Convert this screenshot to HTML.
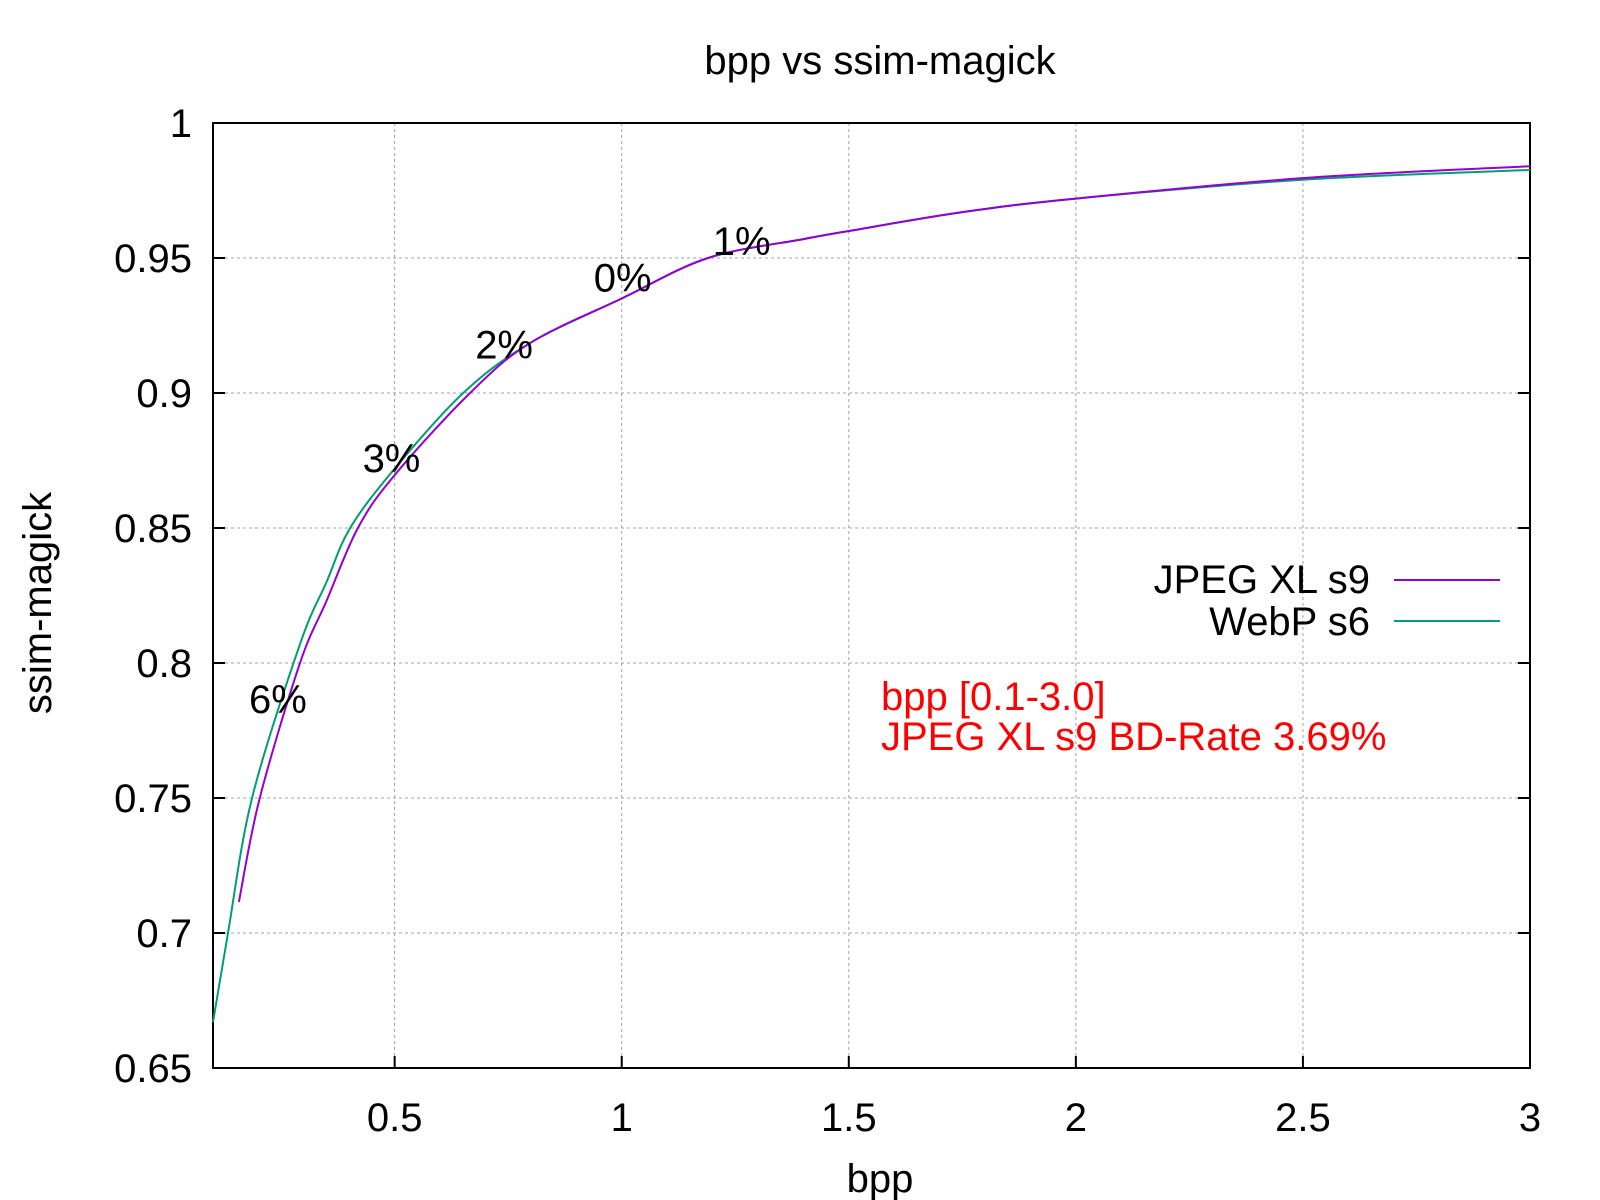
<!DOCTYPE html>
<html><head><meta charset="utf-8"><style>
html,body{margin:0;padding:0;background:#fff;}
svg{display:block;font-family:"Liberation Sans",Arial,sans-serif;}
</style></head><body>
<svg id="chart" width="1600" height="1200" viewBox="0 0 1600 1200">
<text x="880" y="74" font-size="40" text-anchor="middle">bpp vs ssim-magick</text>
<g id="grid"></g>
<g id="ticks"></g>
<rect x="213" y="123" width="1317" height="945" fill="none" stroke="#000" stroke-width="2"/>
<g id="series"></g>
<text x="880" y="1192" font-size="40" text-anchor="middle">bpp</text>
<text x="0" y="0" font-size="40" text-anchor="middle" transform="translate(51,603) rotate(-90)">ssim-magick</text>
<g>
<text x="1370" y="593" font-size="40" text-anchor="end">JPEG XL s9</text>
<line x1="1394" y1="580" x2="1500" y2="580" stroke="#9400d3" stroke-width="2"/>
<text x="1370" y="635" font-size="40" text-anchor="end">WebP s6</text>
<line x1="1394" y1="621" x2="1500" y2="621" stroke="#009e73" stroke-width="2"/>
</g>
<text x="881" y="710" font-size="40" fill="#ff0000">bpp [0.1-3.0]</text>
<text x="881" y="750" font-size="40" fill="#ff0000">JPEG XL s9 BD-Rate 3.69%</text>
<g id="annots"></g>
</svg>
<script>
const xTicks=[0.5,1,1.5,2,2.5,3];
const xTickLabels=["0.5","1","1.5","2","2.5","3"];
const yTicks=[0.65,0.7,0.75,0.8,0.85,0.9,0.95,1];
const yTickLabels=["0.65","0.7","0.75","0.8","0.85","0.9","0.95","1"];
const jxlX=[0.157,0.203,0.2916,0.35,0.419,0.5,0.666,0.798,1.0,1.19,1.4,1.5,1.75,2.0,2.5,3.0];
const jxlY=[0.7115,0.75,0.8,0.823,0.85,0.8696,0.9,0.9185,0.935,0.95,0.957,0.960,0.967,0.972,0.9796,0.984];
const webpX=[0.1,0.133,0.186,0.2916,0.35,0.402,0.5,0.651,0.798,1.0,1.19,1.4,1.5,1.75,2.0,2.5,3.0];
const webpY=[0.667,0.7,0.75,0.807,0.83,0.85,0.872,0.9,0.9185,0.935,0.95,0.957,0.960,0.967,0.972,0.979,0.9826];
const annotLabels=["6%","3%","2%","0%","1%"];
const annotX=[0.243,0.493,0.741,1.002,1.264];
const annotY=[0.7866,0.876,0.918,0.9427,0.9563];
const NS="http://www.w3.org/2000/svg";
const X0=213,X1=1530,Y0=1068,Y1=123;
const xs=v=>X0+(v-0.1)/(3-0.1)*(X1-X0);
const ys=v=>Y0-(v-0.65)/(1-0.65)*(Y0-Y1);
const grid=document.getElementById('grid'),ticks=document.getElementById('ticks');
function mk(t,a,p){const e=document.createElementNS(NS,t);for(const k in a)e.setAttribute(k,a[k]);p.appendChild(e);return e;}
xTicks.forEach((v,i)=>{const x=xs(v);
 const g=mk('line',{x1:x,x2:x,y1:Y1,y2:Y0,stroke:'#a0a0a0','stroke-width':1,'stroke-dasharray':'3,3'},grid);
 
 
 const t=mk('line',{x1:x,x2:x,y1:Y0,y2:Y0-12,stroke:'#000','stroke-width':2},ticks);
 
 
 const l=mk('text',{x:x,y:1131,'font-size':40,'text-anchor':'middle'},ticks);l.textContent=xTickLabels[i];
 
 
});
yTicks.forEach((v,i)=>{const y=ys(v);
 const g=mk('line',{x1:X0,x2:X1,y1:y,y2:y,stroke:'#a0a0a0','stroke-width':1,'stroke-dasharray':'3,3'},grid);
 
 
 const t=mk('line',{x1:X0,x2:X0+12,y1:y,y2:y,stroke:'#000','stroke-width':2},ticks);
 
 
 const t2=mk('line',{x1:X1,x2:X1-12,y1:y,y2:y,stroke:'#000','stroke-width':2},ticks);
 
 
 const l=mk('text',{x:192,y:y+14,'font-size':40,'text-anchor':'end'},ticks);l.textContent=yTickLabels[i];
 
 
});
const series=document.getElementById('series');
function path(X,Y){let d='';for(let i=0;i<X.length;i++){const x=xs(X[i]),y=ys(Y[i]);
 if(i===0)d='M'+x+','+y;else{const px=xs(X[i-1]),py=ys(Y[i-1]);
 const ppx=i>1?xs(X[i-2]):px,ppy=i>1?ys(Y[i-2]):py;
 const nx=i<X.length-1?xs(X[i+1]):x,ny=i<X.length-1?ys(Y[i+1]):y;
 d+=' C'+(px+(x-ppx)/6)+','+(py+(y-ppy)/6)+' '+(x-(nx-px)/6)+','+(y-(ny-py)/6)+' '+x+','+y;}}
 return d;}
const p1=mk('path',{d:path(webpX,webpY),fill:'none',stroke:'#009e73','stroke-width':2},series);


const p2=mk('path',{d:path(jxlX,jxlY),fill:'none',stroke:'#9400d3','stroke-width':2},series);


const an=document.getElementById('annots');
annotLabels.forEach((s,i)=>{const t=mk('text',{x:xs(annotX[i]),y:ys(annotY[i])+14,'font-size':40,'text-anchor':'middle'},an);t.textContent=s;
 
 
});
</script>
</body></html>
